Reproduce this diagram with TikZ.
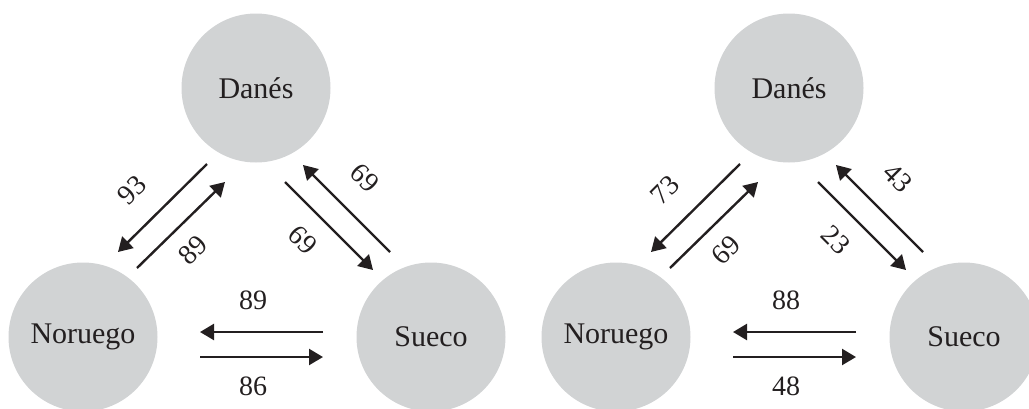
\documentclass[tikz,border=0pt]{standalone}
\usepackage{fontspec}
\setmainfont{Liberation Serif}
\usetikzlibrary{arrows.meta}
\definecolor{circgray}{HTML}{D1D3D4}
\definecolor{ink}{HTML}{231F20}
\tikzset{
  lang/.style={circle, fill=circgray, minimum size=149pt, inner sep=0pt, text=ink,
    font=\fontsize{30}{32}\selectfont},
  flow/.style={draw=ink, line width=2.4pt, -{Triangle[length=14pt,width=16pt]}},
  num/.style={text=ink, font=\fontsize{28}{30}\selectfont, inner sep=0pt}
}
\begin{document}
\begin{tikzpicture}[x=1pt,y=-1pt]
\useasboundingbox (0,0) rectangle (1029,408);
\foreach \o/\s/\na/\nb/\nc/\nd/\ne/\nf in {0/L/93/89/69/69/89/86, 533/R/73/69/23/43/88/48}{
  \begin{scope}[xshift=\o pt]
    \node[lang] (dan\s) at (256,88) {Danés};
    \node[lang] (nor\s) at (83,337) {Noruego};
    \node[lang] (sue\s) at (431,337) {Sueco};
    % endpoints
    \coordinate (nwaS\s) at (207,164); \coordinate (nwaE\s) at (118,252);
    \coordinate (nwbS\s) at (137,268); \coordinate (nwbE\s) at (225,182);
    \coordinate (neaS\s) at (285,182); \coordinate (neaE\s) at (373,270);
    \coordinate (nebS\s) at (390,252); \coordinate (nebE\s) at (303,165);
    \coordinate (htS\s) at (323,332); \coordinate (htE\s) at (200,332);
    \coordinate (hbS\s) at (200,357); \coordinate (hbE\s) at (323,357);
    \draw[flow] (nwaS\s) -- (nwaE\s);
    \draw[flow] (nwbS\s) -- (nwbE\s);
    \draw[flow] (neaS\s) -- (neaE\s);
    \draw[flow] (nebS\s) -- (nebE\s);
    \draw[flow] (htS\s) -- (htE\s);
    \draw[flow] (hbS\s) -- (hbE\s);
    \node[num, rotate=45] (la\s) at (132,190) {\na};
    \node[num, rotate=45] (lb\s) at (193,250) {\nb};
    \node[num, rotate=-45] (lc\s) at (303,240) {\nc};
    \node[num, rotate=-45] (ld\s) at (365,178) {\nd};
    \node[num] (le\s) at (253,300) {\ne};
    \node[num] (lf\s) at (253,386) {\nf};
  \end{scope}
}
\end{tikzpicture}
\end{document}
